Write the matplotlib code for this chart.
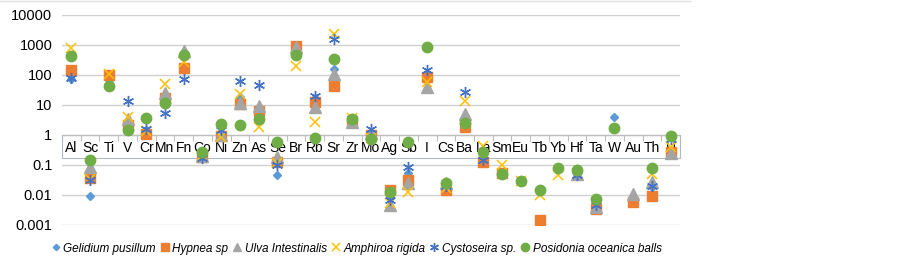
import numpy as np
import matplotlib
matplotlib.use("Agg")
import matplotlib.pyplot as plt
from matplotlib.patches import Rectangle
import matplotlib.transforms as mtransforms

plt.rcParams['font.family'] = ['Liberation Sans', 'DejaVu Sans']

nan = np.nan

# Elements on the x axis
elements = ['Al', 'Sc', 'Ti', 'V', 'Cr', 'Mn', 'Fn', 'Co', 'Ni', 'Zn', 'As', 'Se',
            'Br', 'Rb', 'Sr', 'Zr', 'Mo', 'Ag', 'Sb', 'I', 'Cs', 'Ba', 'La', 'Sm',
            'Eu', 'Tb', 'Yb', 'Hf', 'Ta', 'W', 'Au', 'Th', 'U']

# Concentrations (log scale)
gelidium = [75, 0.0093, 70, 2.5, 1.5, 15, 170, 0.2, 1.3, 19, 6, 0.047,
            800, 17, 155, 3, 1.2, 0.008, 0.053, 110, 0.02, 2, 0.15, nan,
            nan, nan, nan, 0.05, 0.004, 3.9, nan, 0.018, nan]
hypnea = [150, 0.038, 100, 2.1, 1.07, 17, 170, 0.18, 0.93, 11, 6.3, 0.13,
          900, 13, 44, 3, 1.0, 0.015, 0.032, 88, 0.015, 1.8, 0.13, 0.053,
          nan, 0.0015, nan, nan, 0.0033, nan, 0.006, 0.0095, 0.28]
ulva = [nan, 0.088, nan, 3.4, nan, 25, 630, 0.2, 1.0, 12, 9, 0.19,
        870, 8.5, 108, 2.8, 1.2, 0.0047, 0.025, 39, 0.025, 5, nan, nan,
        nan, nan, nan, 0.05, 0.004, nan, 0.0105, 0.028, 0.25]
amphiroa = [800, 0.035, 107, 4, 1.4, 50, 270, 0.2, 0.85, 23, 1.9, 0.12,
            200, 2.8, 2300, 3.6, 0.8, 0.0055, 0.013, 60, 0.017, 14, 0.43, 0.1,
            0.03, 0.01, 0.046, nan, nan, nan, nan, 0.05, 0.4]
cystoseira = [80, 0.032, nan, 13.5, 1.6, 5.4, 74, 0.17, 1.5, 65, 46, 0.1,
              nan, 20, 1600, 3.5, 1.6, 0.0068, 0.088, 146, 0.02, 28, 0.15, nan,
              nan, nan, nan, 0.048, 0.0045, nan, nan, 0.02, 0.75]
posidonia = [440, 0.15, 43, 1.5, 3.7, 12, 460, 0.28, 2.3, 2.2, 3.4, 0.6,
             460, 0.8, 340, 3.4, 0.74, 0.013, 0.57, 840, 0.026, 2.6, 0.28, 0.052,
             0.03, 0.015, 0.081, 0.068, 0.0072, 1.7, nan, 0.081, 0.93]

series = [
    ('Gelidium pusillum', gelidium, dict(marker='D', color='#5B9BD5', ms=4)),
    ('Hypnea sp', hypnea, dict(marker='s', color='#ED7D31', ms=7)),
    ('Ulva Intestinalis', ulva, dict(marker='^', color='#A5A5A5', ms=8)),
    ('Amphiroa rigida', amphiroa, dict(marker='x', color='#FFC000', ms=7, mew=1.1)),
    ('Cystoseira sp.', cystoseira, dict(marker=(6, 2, 0), color='#4472C4', ms=8, mew=1.0)),
    ('Posidonia oceanica balls', posidonia, dict(marker='o', color='#70AD47', ms=7.5)),
]

fig = plt.figure(figsize=(9.03, 2.63), dpi=100)
ax = fig.add_axes([62 / 903, 1 - 225 / 263, 618 / 903, 210 / 263])

x = np.arange(len(elements))
for name, vals, st in series:
    ax.plot(x, vals, linestyle='none', markeredgecolor=st['color'], label=name,
            zorder=3, **st)

ax.set_yscale('log')
ax.set_ylim(0.001, 10000)
ax.set_xlim(-0.5, len(elements) - 0.5)
ax.set_yticks([0.001, 0.01, 0.1, 1, 10, 100, 1000, 10000])
ax.set_yticklabels(['0.001', '0.01', '0.1', '1', '10', '100', '1000', '10000'])
ax.minorticks_off()
ax.tick_params(axis='y', length=0, pad=7, labelsize=10.5)
ax.yaxis.grid(True, color='#D0D0D0', linewidth=1)
ax.set_axisbelow(True)

for s in ['left', 'right', 'top']:
    ax.spines[s].set_visible(False)
ax.spines['bottom'].set_position(('data', 1))
ax.spines['bottom'].set_color('#BFBFBF')

# category boundaries as tick marks, labels at the centres
ax.set_xticks(np.arange(len(elements) + 1) - 0.5)
ax.set_xticklabels([])
ax.tick_params(axis='x', which='major', length=4, color='#BFBFBF', direction='out')
ax.set_xticks(x, minor=True)
ax.set_xticklabels(elements, minor=True)
ax.tick_params(axis='x', which='minor', length=0, pad=4, labelsize=10)

# outline box around the category labels
trans = mtransforms.blended_transform_factory(ax.transAxes, ax.transData)
ax.add_patch(Rectangle((0, 0.17), 1, 1 - 0.17, transform=trans, fill=False,
                       edgecolor='#B0B8C4', linewidth=0.8, zorder=1, clip_on=False))

fig.add_artist(plt.Line2D([0, 690 / 903], [0.996, 0.996], color='#E0E0E0', lw=1))

fig.legend(loc='center', bbox_to_anchor=(0.395, 0.055), ncol=6, frameon=False,
           handlelength=0.7, handletextpad=0.3, columnspacing=0.4, markerscale=0.8,
           prop={'style': 'italic', 'size': 8.5})

plt.savefig('out.png', dpi=100)
